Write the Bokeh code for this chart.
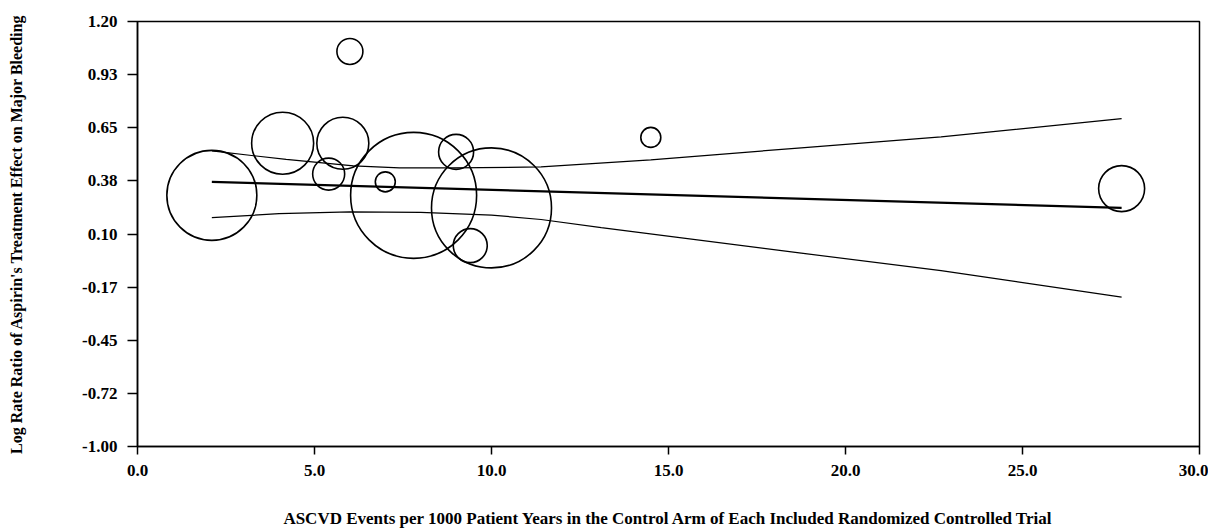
from bokeh.plotting import figure
from bokeh.models import FixedTicker, Range1d
from bokeh.embed import file_html
from bokeh.resources import INLINE

# Study-level data (bubble plot)
study_x = [2.1, 4.1, 5.8, 5.4, 6.0, 7.0, 7.8, 9.0, 9.4, 10.0, 14.5, 27.8]
study_y = [0.30, 0.57, 0.57, 0.41, 1.045, 0.37, 0.30, 0.525, 0.04, 0.235, 0.60, 0.335]
study_weight = [45, 31, 26, 16, 13, 10, 63, 17.5, 17, 60, 10, 23]

# Meta-regression fit and confidence bounds
fit_x = [2.1, 27.8]
fit_y = [0.37, 0.235]
upper_x = [2.1, 4.2, 6.1, 7.4, 8.9, 11.4, 14.5, 18.75, 22.7, 27.8]
upper_y = [0.53, 0.486, 0.453, 0.442, 0.442, 0.447, 0.484, 0.546, 0.603, 0.697]
lower_x = [2.1, 4.0, 6.0, 8.0, 10.0, 11.4, 13.1, 18.75, 22.7, 27.8]
lower_y = [0.185, 0.205, 0.215, 0.212, 0.198, 0.175, 0.133, 0.001, -0.09, -0.227]

x_ticks = [0, 5, 10, 15, 20, 25, 30]
x_labels = ["0.0", "5.0", "10.0", "15.0", "20.0", "25.0", "30.0"]
y_ticks = [-1.0, -0.725, -0.45, -0.175, 0.10, 0.375, 0.65, 0.925, 1.20]
y_labels = ["-1.00", "-0.72", "-0.45", "-0.17", "0.10", "0.38", "0.65", "0.93", "1.20"]

FONT = "Liberation Serif"

p = figure(width=1208, height=531, output_backend="svg", toolbar_location=None,
           x_range=Range1d(0, 30), y_range=Range1d(-1.0, 1.2),
           min_border_left=137, min_border_top=21, min_border_right=9, min_border_bottom=85)
p.background_fill_color = "white"
p.border_fill_color = "white"
p.xgrid.visible = False
p.ygrid.visible = False
p.outline_line_color = "black"
p.outline_line_width = 1.5

p.scatter(study_x, study_y, size=[2 * w for w in study_weight], marker="circle",
          fill_color=None, line_color="black", line_width=1.6)
p.line(upper_x, upper_y, line_color="black", line_width=1.2)
p.line(lower_x, lower_y, line_color="black", line_width=1.2)
p.line(fit_x, fit_y, line_color="black", line_width=2.2)

for ax in (p.xaxis, p.yaxis):
    ax.axis_line_width = 1.5
    ax.major_tick_line_width = 1.5
    ax.minor_tick_line_color = None
    ax.major_label_text_font = FONT
    ax.major_label_text_font_style = "bold"
    ax.major_label_text_font_size = "17px"
    ax.major_label_text_color = "black"
    ax.axis_label_text_font = FONT
    ax.axis_label_text_font_style = "bold"
    ax.axis_label_text_color = "black"

p.xaxis.ticker = FixedTicker(ticks=x_ticks)
p.xaxis.major_label_overrides = {t: l for t, l in zip(x_ticks, x_labels)}
p.yaxis.ticker = FixedTicker(ticks=y_ticks)
p.yaxis.major_label_overrides = {t: l for t, l in zip(y_ticks, y_labels)}

p.xaxis.major_tick_out = 8
p.xaxis.major_tick_in = 0
p.xaxis.major_label_standoff = 10
p.yaxis.major_tick_out = 10
p.yaxis.major_tick_in = 0
p.yaxis.major_label_standoff = 10

p.xaxis.axis_label = "ASCVD Events per 1000 Patient Years in the Control Arm of Each Included Randomized Controlled Trial"
p.xaxis.axis_label_text_font_size = "17px"
p.xaxis.axis_label_standoff = 30
p.yaxis.axis_label = "Log Rate Ratio of Aspirin's Treatment Effect on Major Bleeding"
p.yaxis.axis_label_text_font_size = "16px"
p.yaxis.axis_label_standoff = 54

open("out.html", "w").write(file_html(p, INLINE))
